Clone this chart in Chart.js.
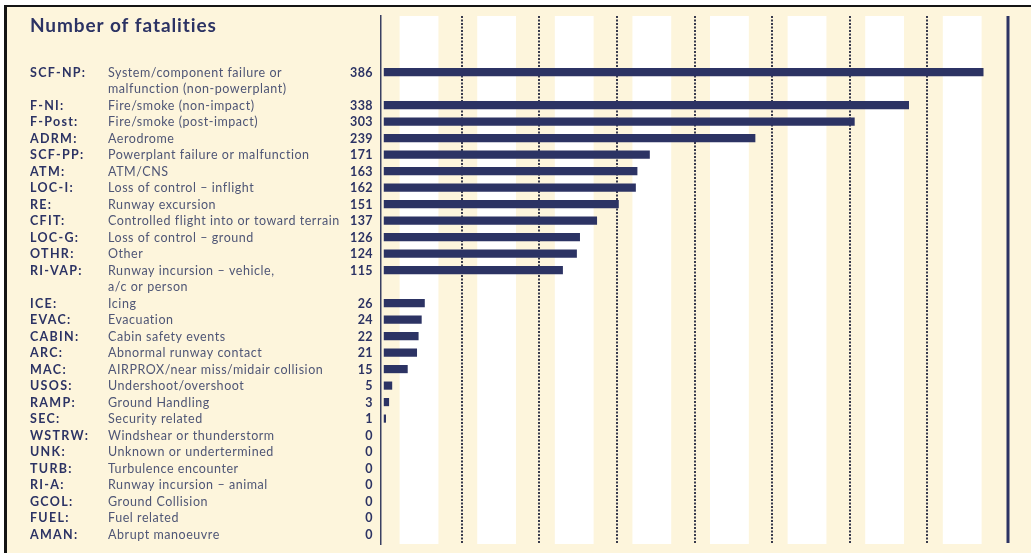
<!DOCTYPE html>
<html>
<head>
<meta charset="utf-8">
<title>Number of fatalities</title>
<script src="https://cdn.jsdelivr.net/npm/chart.js@4.4.1/dist/chart.umd.min.js"></script>
<style>
  body { margin: 0; background: #fff; }
  .frame {
    position: absolute; left: 4px; top: 5px; right: 0; bottom: 0;
    border-top: 2px solid #141414; border-left: 3px solid #141414;
    background: #fdf5dc;
  }
  #myChart { position: absolute; left: 0; top: 0; }
</style>
</head>
<body>
<div class="frame"></div>
<canvas id="myChart" width="1031" height="553"></canvas>
<script>
var codes = ["SCF-NP", "F-NI", "F-Post", "ADRM", "SCF-PP", "ATM", "LOC-I", "RE", "CFIT",
  "LOC-G", "OTHR", "RI-VAP", "ICE", "EVAC", "CABIN", "ARC", "MAC", "USOS", "RAMP", "SEC",
  "WSTRW", "UNK", "TURB", "RI-A", "GCOL", "FUEL", "AMAN"];

var descriptions = [
  ["System/component failure or", "malfunction (non-powerplant)"],
  ["Fire/smoke (non-impact)"],
  ["Fire/smoke (post-impact)"],
  ["Aerodrome"],
  ["Powerplant failure or malfunction"],
  ["ATM/CNS"],
  ["Loss of control – inflight"],
  ["Runway excursion"],
  ["Controlled flight into or toward terrain"],
  ["Loss of control – ground"],
  ["Other"],
  ["Runway incursion – vehicle,", "a/c or person"],
  ["Icing"],
  ["Evacuation"],
  ["Cabin safety events"],
  ["Abnormal runway contact"],
  ["AIRPROX/near miss/midair collision"],
  ["Undershoot/overshoot"],
  ["Ground Handling"],
  ["Security related"],
  ["Windshear or thunderstorm"],
  ["Unknown or undertermined"],
  ["Turbulence encounter"],
  ["Runway incursion – animal"],
  ["Ground Collision"],
  ["Fuel related"],
  ["Abrupt manoeuvre"]
];

var fatalities = [386, 338, 303, 239, 171, 163, 162, 151, 137, 126, 124, 115,
  26, 24, 22, 21, 15, 5, 3, 1, 0, 0, 0, 0, 0, 0, 0];

var gridValues = [50, 100, 150, 200, 250, 300, 350];

// each row takes one line slot per description line
var slots = [];
var next = 0;
for (var i = 0; i < codes.length; i++) {
  slots.push(next);
  next += descriptions[i].length;
}

var navy = "#2c3364";
var font = "Lato, 'Open Sans', sans-serif";

var backdrop = {
  id: "backdrop",
  beforeDraw: function (chart) {
    var c = chart.ctx, a = chart.chartArea, x = chart.scales.x;
    c.save();
    // white bands inside every 50-unit step
    c.fillStyle = "#ffffff";
    for (var v = 0; v < 400; v += 50) {
      var x0 = x.getPixelForValue(v + 10);
      var x1 = x.getPixelForValue(v + 35);
      c.fillRect(x0, a.top, x1 - x0, a.bottom - a.top);
    }
    // dotted gridlines
    c.strokeStyle = "#23263d";
    c.lineWidth = 1.8;
    c.setLineDash([2, 1.5]);
    gridValues.forEach(function (g) {
      var px = Math.round(x.getPixelForValue(g));
      c.beginPath();
      c.moveTo(px, a.top);
      c.lineTo(px, a.bottom);
      c.stroke();
    });
    c.setLineDash([]);
    // heavy rule on the right
    c.strokeStyle = navy;
    c.lineWidth = 3;
    c.beginPath();
    c.moveTo(a.right, a.top);
    c.lineTo(a.right, a.bottom - 1);
    c.stroke();
    c.restore();
  }
};

var rowLabels = {
  id: "rowLabels",
  afterDraw: function (chart) {
    var c = chart.ctx, y = chart.scales.y;
    c.save();
    c.textBaseline = "middle";

    c.fillStyle = navy;
    c.font = "bold 19px " + font;
    c.letterSpacing = "0.9px";
    c.textAlign = "left";
    c.fillText("Number of fatalities", 30, 26);

    for (var i = 0; i < codes.length; i++) {
      var py = y.getPixelForValue(slots[i]) + 0.5;
      c.font = "bold 12.5px " + font;
      c.letterSpacing = "1.3px";
      c.fillStyle = navy;
      c.textAlign = "left";
      c.fillText(codes[i] + ":", 30, py);
      c.letterSpacing = "0.4px";
      c.textAlign = "right";
      c.fillText(String(fatalities[i]), 373, py);

      c.font = "12.5px " + font;
      c.letterSpacing = "0.55px";
      c.fillStyle = "#4f5676";
      c.textAlign = "left";
      for (var j = 0; j < descriptions[i].length; j++) {
        c.fillText(descriptions[i][j], 108, y.getPixelForValue(slots[i] + j) + 0.5);
      }
    }
    c.restore();
  }
};

var data = {
  datasets: [
    {
      label: "Number of fatalities",
      data: slots.map(function (s, i) { return { x: fatalities[i], y: s }; }),
      backgroundColor: function (ctx) {
        return ctx.raw && ctx.raw.x > 0 ? navy : "rgba(0,0,0,0)";
      },
      barThickness: 7.5,
      borderWidth: 0,
    },
  ],
};

var options = {
  indexAxis: "y",
  responsive: false,
  animation: false,
  devicePixelRatio: 1,
  layout: {
    padding: { left: 381, right: 23, top: 16, bottom: 9 },
  },
  scales: {
    x: {
      type: "linear",
      min: -2,
      max: 402,
      display: false,
    },
    y: {
      type: "linear",
      reverse: true,
      offset: false,
      min: -3.4,
      max: 28.6,
      ticks: { display: false },
      grid: { display: false, drawTicks: false, offset: false },
      border: { display: true, color: "#3a4062", width: 1.5 },
      afterFit: function (scale) { scale.width = 0; },
    },
  },
  plugins: {
    legend: { display: false },
    tooltip: { enabled: false },
  },
};

const ctx = document.getElementById("myChart").getContext("2d");
const myChart = new Chart(ctx, {
  type: "bar",
  data: data,
  options: options,
  plugins: [backdrop, rowLabels],
});
</script>
</body>
</html>
